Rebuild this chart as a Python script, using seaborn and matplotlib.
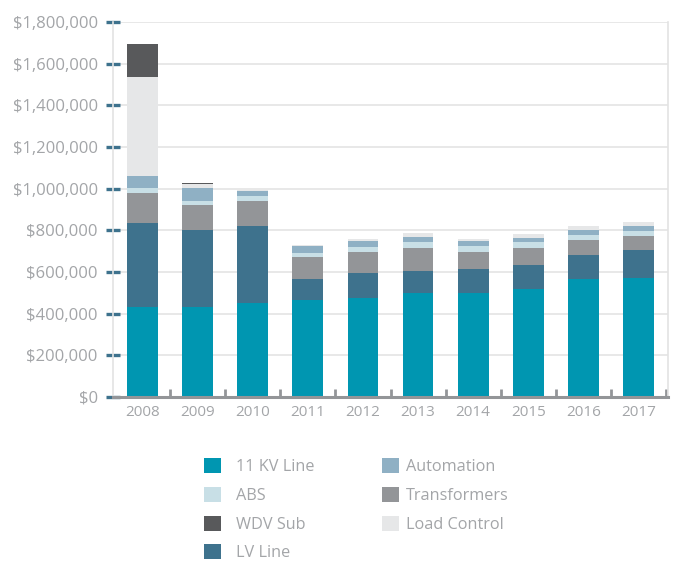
import numpy as np
import pandas as pd
import matplotlib
matplotlib.use("Agg")
import matplotlib.pyplot as plt
from matplotlib.patches import Patch
from matplotlib.ticker import FuncFormatter, MultipleLocator
import seaborn as sns

years = ["2008", "2009", "2010", "2011", "2012", "2013", "2014", "2015", "2016", "2017"]
kv11_line = [431600, 431600, 450800, 466700, 476000, 498800, 498800, 518000, 566000, 572000]
lv_line = [402900, 369400, 369200, 99300, 118700, 105200, 115200, 115000, 115000, 133000]
transformers = [143900, 120000, 120000, 105000, 100700, 110600, 81400, 81600, 72000, 67000]
abs_vals = [23600, 19000, 24000, 19600, 24000, 28400, 28600, 28400, 24000, 24000]
automation = [58000, 62000, 24000, 35000, 28600, 24000, 24000, 19600, 24000, 24000]
load_control = [475000, 19600, 8000, 4400, 9800, 19500, 9800, 19100, 19000, 19000]
wdv_sub = [161000, 4000, 0, 0, 0, 0, 0, 0, 0, 0]

# stacking order, bottom to top
series = [
    ("11 KV Line", kv11_line, "#0096b1"),
    ("LV Line", lv_line, "#3e728d"),
    ("Transformers", transformers, "#939598"),
    ("ABS", abs_vals, "#c8dfe6"),
    ("Automation", automation, "#8fb0c4"),
    ("Load Control", load_control, "#e6e7e8"),
    ("WDV Sub", wdv_sub, "#58595b"),
]

sns.set_theme(style="white")
plt.rcParams["font.family"] = ["Open Sans", "DejaVu Sans"]

fig = plt.figure(figsize=(6.76, 5.61), dpi=100)
ax = fig.add_axes([113 / 676, 1 - 397 / 561, (668 - 113) / 676, (397 - 22) / 561])

cum = np.zeros(len(years))
cums = []
for name, vals, col in series:
    cum = cum + np.array(vals, dtype=float)
    cums.append((name, cum.copy(), col))

for name, c, col in reversed(cums):
    df = pd.DataFrame({"year": years, "value": c})
    sns.barplot(data=df, x="year", y="value", color=col, width=0.56,
                saturation=1, ax=ax, linewidth=0, zorder=3)

ax.set_xlim(-0.535, 9.535)
ax.set_ylim(0, 1800000)
ax.set_xlabel("")
ax.set_ylabel("")

ax.yaxis.set_major_locator(MultipleLocator(200000))
ax.yaxis.set_major_formatter(FuncFormatter(lambda v, p: f"${int(v):,}"))
ax.grid(axis="y", color="#e6e6e6", linewidth=1.3, zorder=0)
ax.grid(axis="x", visible=False)
ax.set_axisbelow(True)

ax.spines["top"].set_visible(False)
ax.spines["left"].set_color("#e3e3e3")
ax.spines["left"].set_linewidth(1.2)
ax.spines["right"].set_color("#e3e3e3")
ax.spines["right"].set_linewidth(1.2)
ax.spines["bottom"].set_color("#939598")
ax.spines["bottom"].set_linewidth(2.2)
ax.spines["bottom"].set_zorder(4)

ax.tick_params(axis="y", which="major", direction="inout", length=10, width=2.4,
               color="#3e728d", labelsize=12, labelcolor="#a3a5a8", pad=6, left=True)
ax.tick_params(axis="x", which="major", length=0, labelsize=11, labelcolor="#a3a5a8", pad=6)
ax.set_xticks(np.arange(0.5, 10, 1), minor=True)
ax.tick_params(axis="x", which="minor", direction="in", length=6, width=2,
               color="#939598", bottom=True)

colors = {n: c for n, _, c in series}
col1 = ["11 KV Line", "ABS", "WDV Sub", "LV Line"]
col2 = ["Automation", "Transformers", "Load Control"]
common = dict(loc="upper left", frameon=False, fontsize=11.7, labelcolor="#a3a5a8",
              handlelength=1.05, handleheight=1.05, labelspacing=0.72,
              borderpad=0, borderaxespad=0)
leg1 = fig.legend(handles=[Patch(facecolor=colors[n], edgecolor="none", label=n) for n in col1],
                  bbox_to_anchor=(204 / 676, 1 - 458 / 561), handletextpad=0.95, **common)
leg2 = fig.legend(handles=[Patch(facecolor=colors[n], edgecolor="none", label=n) for n in col2],
                  bbox_to_anchor=(382 / 676, 1 - 458 / 561), handletextpad=0.45, **common)

fig.savefig("out.png", dpi=100)
